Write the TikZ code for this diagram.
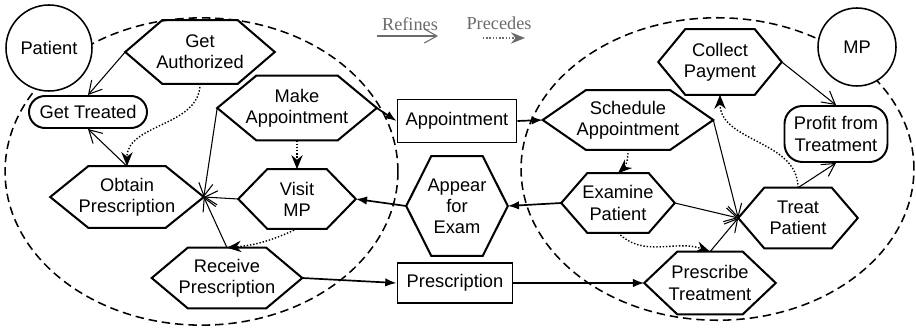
\documentclass[tikz,border=0pt]{standalone}
\usepackage{fontspec}
\setmainfont{Liberation Sans}
\newfontfamily\legendfont{Liberation Serif}
\usetikzlibrary{arrows.meta}

\newcommand{\pxu}{0.025cm}
\newcommand{\hexnode}[6]{%
  \node[task, minimum width=#3*\pxu, minimum height=#4*\pxu] (#1) at #2 {#6};
  \draw[taskline] (#1.west) -- ([xshift=#5*\pxu]#1.north west)
    -- ([xshift=-#5*\pxu]#1.north east) -- (#1.east)
    -- ([xshift=-#5*\pxu]#1.south east)
    -- ([xshift=#5*\pxu]#1.south west) -- cycle;
}

\begin{document}
\begin{tikzpicture}[x=0.025cm, y=-0.025cm,
    font=\fontsize{13}{15}\selectfont,
    task/.style={align=center, inner sep=0pt},
    taskline/.style={line width=1.45pt, line join=miter},
    goal/.style={draw, line width=1.4pt, align=center, inner sep=0pt},
    res/.style={draw, line width=1.4pt, inner sep=0pt},
    actor/.style={draw, circle, fill=white, line width=1.1pt, inner sep=0pt},
    refines/.style={line width=0.75pt, -{Straight Barb[length=9pt,width=10pt]}},
    precedes/.style={line width=1pt, dash pattern=on 1pt off 1.3pt, -{Stealth[length=10pt,width=8pt]}},
    flow/.style={line width=1.2pt, -{Latex[length=8pt,width=6pt]}},
    boundary/.style={line width=1.1pt, dash pattern=on 6pt off 3.5pt},
    legend/.style={font=\legendfont\fontsize{13}{15}\selectfont, text=legendgray}]
  \definecolor{legendgray}{gray}{0.42}
  \useasboundingbox (0,0) rectangle (916,328);

  \draw[boundary] (201.5,171.5) ellipse [x radius=4.91cm, y radius=3.84cm];
  \draw[boundary] (717.5,169) ellipse [x radius=4.91cm, y radius=3.78cm];

  \node[legend] (reftext) at (410,24) {Refines};
  \coordinate (refa) at (377,36);
  \coordinate (refb) at (438,36);
  \draw[refines, legendgray] (refa) -- (refb);
  \node[legend] (pretext) at (499,23) {Precedes};
  \coordinate (prea) at (483,38);
  \coordinate (preb) at (525,38);
  \draw[precedes, legendgray] (prea) -- (preb);

  \node[actor, minimum size=86*\pxu] (patient) at (49,48) {Patient};
  \node[actor, minimum size=78*\pxu] (mp) at (857,47) {MP};

  \hexnode{getauth}{(200,52)}{149}{63}{37}{Get\\Authorized}
  \node[goal, rounded corners=0.4cm, minimum width=118*\pxu, minimum height=32*\pxu] (gettreated) at (88,112) {Get Treated};
  \hexnode{makeappt}{(297,108)}{159}{64}{39}{Make\\Appointment}
  \hexnode{obtain}{(127,197)}{153}{61}{38}{Obtain\\Prescription}
  \hexnode{visit}{(297,199)}{117}{59}{29}{Visit\\MP}
  \hexnode{receive}{(227,278)}{150}{60}{36}{Receive\\Prescription}

  \node[res, minimum width=119*\pxu, minimum height=43*\pxu] (appt) at (457,121) {Appointment};
  \hexnode{appear}{(457,206)}{101}{99}{25}{Appear\\for\\Exam}
  \node[res, minimum width=115*\pxu, minimum height=40*\pxu] (prescr) at (455,283) {Prescription};

  \hexnode{collect}{(720,62)}{123}{65}{27}{Collect\\Payment}
  \node[goal, rounded corners=0.45cm, minimum width=103*\pxu, minimum height=56*\pxu] (profit) at (836,134) {Profit from\\Treatment};
  \hexnode{sched}{(628,120)}{170}{59}{43}{Schedule\\Appointment}
  \hexnode{examine}{(618,203)}{113}{59}{26}{Examine\\Patient}
  \hexnode{treat}{(798,218)}{119}{60}{26}{Treat\\Patient}
  \hexnode{prescribe}{(710,283)}{131}{62}{33}{Prescribe\\Treatment}

  \draw[refines] (getauth.west) -- (gettreated.north);
  \draw[refines] (obtain.north) -- (gettreated.south);
  \draw[refines] (makeappt.west) -- (obtain.east);
  \draw[refines] (visit.west) -- (obtain.east);
  \draw[refines] (receive.north) -- (obtain.east);
  \draw[refines] (sched.east) -- (treat.west);
  \draw[refines] (examine.east) -- (treat.west);
  \draw[refines] (prescribe.north) -- (treat.west);
  \draw[refines] (collect.east) -- (profit.north);
  \draw[refines] (treat.north) -- (profit.south);

  \draw[flow] (makeappt.east) -- (appt.west);
  \draw[flow] (appt.east) -- (sched.west);
  \draw[flow] (examine.west) -- (appear.east);
  \draw[flow] (appear.west) -- (visit.east);
  \draw[flow] (receive.east) -- (prescr.west);
  \draw[flow] (prescr.east) -- (prescribe.west);

  \draw[precedes] (getauth.south) to[out=-90, in=90] (obtain.north);
  \draw[precedes] (makeappt.south) -- (visit.north);
  \draw[precedes] (visit.south) to[bend left=10] (receive.north);
  \draw[precedes] (sched.south) to[bend left=25] (examine.north);
  \draw[precedes] (examine.south) to[out=-45, in=160] (prescribe.north);
  \draw[precedes] (treat.north) to[out=90, in=-90] (collect.south);
\end{tikzpicture}
\end{document}
